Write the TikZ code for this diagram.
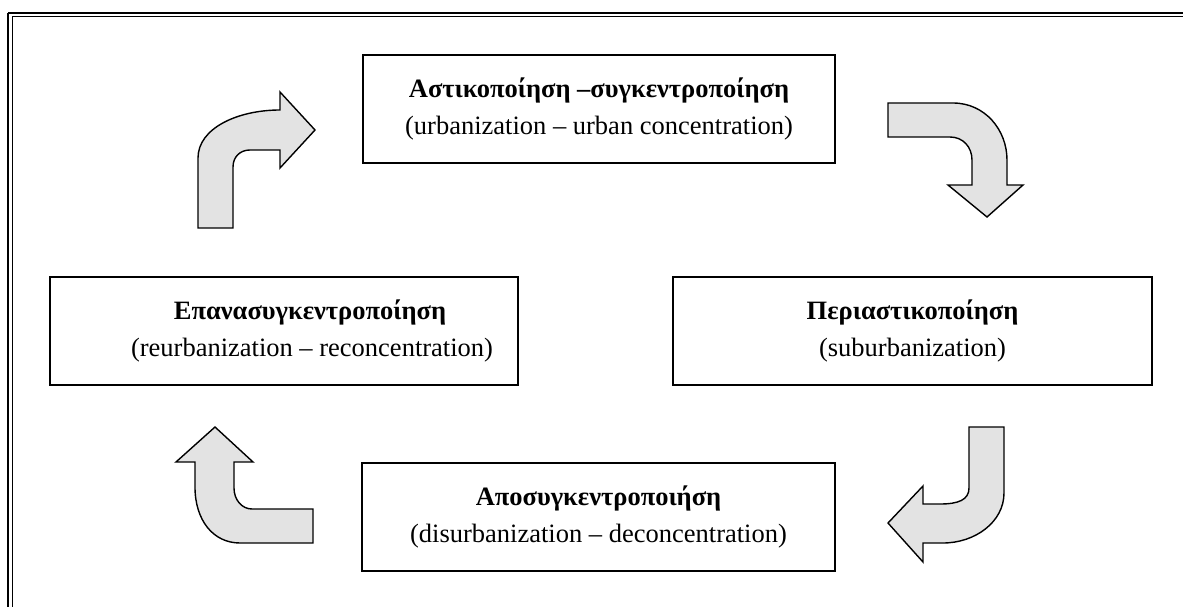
\documentclass[tikz,border=0pt]{standalone}
\usepackage{fontspec}
\setmainfont{Liberation Serif}

\tikzset{
  stage/.style={draw, line width=1.3pt, minimum height=108pt, inner sep=0pt,
    align=center, font=\fontsize{26.5}{37}\selectfont},
  bentarrow/.style={draw, line width=1.4pt, fill=black!11, line join=miter},
}

\begin{document}
\begin{tikzpicture}[x=1pt, y=-1pt]
  \useasboundingbox (0,0) rectangle (1183,607);
  % frame
  \draw[line width=2pt] (8,13) -- (1183,13) (8,13) -- (8,607);
  \draw[line width=0.9pt] (12,16.5) -- (1183,16.5) (12,16.5) -- (12,607);

  \node[stage, minimum width=472pt] (urb) at (599,109)
    {\textbf{Αστικοποίηση –συγκεντροποίηση}\\(urbanization – urban concentration)};
  \node[stage, minimum width=479pt] (sub) at (912.5,331)
    {\textbf{Περιαστικοποίηση}\\(suburbanization)};
  \node[stage, minimum width=473pt] (dis) at (598.5,517)
    {\textbf{Αποσυγκεντροποιήση}\\(disurbanization – deconcentration)};
  \node[stage, minimum width=468pt] (reu) at (284,331)
    {\hspace*{52pt}\textbf{Επανασυγκεντροποίηση}\\\hspace*{56pt}(reurbanization – reconcentration)};

  % block arrows
  \filldraw[bentarrow] (198,228) -- (198,158) .. controls (198,128) and (238,110) .. (280,110)
    -- (280,92) -- (315,130) -- (280,168) -- (280,150) -- (250,150)
    .. controls (240,150) and (233,157) .. (233,167) -- (233,228) -- cycle;
  \filldraw[bentarrow] (888,103) -- (953,103) .. controls (985,103) and (1007,130) .. (1007,160)
    -- (1007,185) -- (1023,185) -- (987,217) -- (948,185) -- (972,185) -- (972,160)
    .. controls (972,147) and (963,137) .. (950,137) -- (888,137) -- cycle;
  \filldraw[bentarrow] (1004,427) -- (1004,493) .. controls (1004,522) and (975,543) .. (943,543)
    -- (923,543) -- (923,562) -- (888,523) -- (923,486) -- (923,504) -- (940,504)
    .. controls (958,504) and (969,500) .. (969,488) -- (969,427) -- cycle;
  \filldraw[bentarrow] (313,509) -- (313,543) -- (240,543) .. controls (213,543) and (195,520) .. (195,487)
    -- (195,462) -- (176,462) -- (215,427) -- (253,462) -- (234,462) -- (234,488)
    .. controls (234,500) and (242,509) .. (252,509) -- cycle;
\end{tikzpicture}
\end{document}
